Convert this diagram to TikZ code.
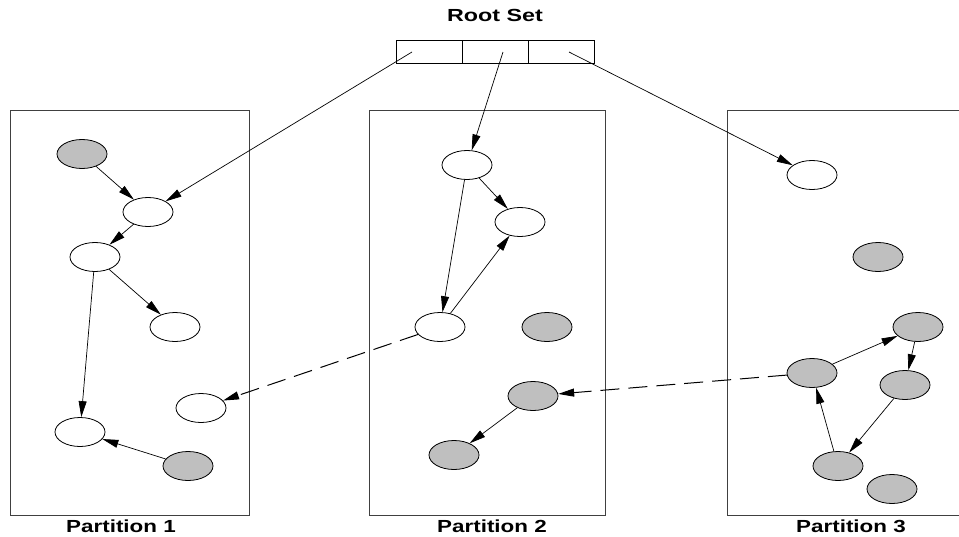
\documentclass[tikz,border=0pt]{standalone}
\usepackage{fontspec}
\setmainfont{Liberation Sans}
\usetikzlibrary{shapes.geometric,arrows.meta}
\begin{document}
\begin{tikzpicture}[x=1pt,y=-1pt,
  obj/.style={ellipse,draw=black,line width=0.8pt,minimum width=50pt,minimum height=29pt,inner sep=0pt},
  live/.style={obj,fill=white},
  dead/.style={obj,fill=black!25},
  arr/.style={line width=0.7pt,-{Triangle[length=16pt,width=8pt]}},
  darr/.style={arr,line width=1pt,dash pattern=on 19pt off 9pt},
  part/.style={draw=black!75,line width=1pt},
  lbl/.style={font=\bfseries\fontsize{17.5}{20}\selectfont,inner sep=0pt}]
\useasboundingbox (0,0) rectangle (959,536);
\fill[white] (0,0) rectangle (959,536);
% partitions
\draw[part] (10,110) rectangle (249,515);
\draw[part] (369,110) rectangle (605,515);
\draw[part] (962,110) -- (727,110) -- (727,515) -- (962,515);
% root set
\draw[line width=0.8pt] (396,40) rectangle (594,63);
\draw[line width=0.8pt] (462,40) -- (462,63) (528,40) -- (528,63);
\node[lbl] (rstitle) at (495,15) {\scalebox{1.33}[1]{Root Set}};
\coordinate (rs1) at (412,52);
\coordinate (rs2) at (503,52);
\coordinate (rs3) at (569,52);
% labels
\node[lbl] (l1) at (121,526) {\scalebox{1.28}[1]{Partition 1}};
\node[lbl] (l2) at (492,526) {\scalebox{1.28}[1]{Partition 2}};
\node[lbl] (l3) at (851,526) {\scalebox{1.28}[1]{Partition 3}};
% partition 1
\node[dead] (g1) at (82,154) {};
\node[live] (w1) at (148,212) {};
\node[live] (w2) at (95,257) {};
\node[live] (w3) at (175,327) {};
\node[live] (w4) at (80,432) {};
\node[live] (w5) at (201,408) {};
\node[dead] (g2) at (188,466) {};
% partition 2
\node[live] (a) at (467,165) {};
\node[live] (b) at (520,222) {};
\node[live] (c) at (440,327) {};
\node[dead] (d) at (547,327) {};
\node[dead] (e) at (533,396) {};
\node[dead] (f) at (454,455) {};
% partition 3
\node[live] (p) at (812,175) {};
\node[dead] (q) at (878,257) {};
\node[dead] (r) at (812,373) {};
\node[dead] (s) at (918,327) {};
\node[dead] (t) at (905,385) {};
\node[dead] (u) at (838,466) {};
\node[dead] (v) at (892,489) {};
% edges
\draw[arr] (rs1) -- (w1);
\draw[arr] (rs2) -- (a);
\draw[arr] (rs3) -- (p);
\draw[arr] (g1) -- (w1);
\draw[arr] (w1) -- (w2);
\draw[arr] (w2) -- (w3);
\draw[arr] (w2) -- (w4);
\draw[arr] (g2) -- (w4);
\draw[arr] (a) -- (b);
\draw[arr] (a) -- (c);
\draw[arr] (c) -- (b);
\draw[arr] (e) -- (f);
\draw[arr] (r) -- (s);
\draw[arr] (s) -- (t);
\draw[arr] (t) -- (u);
\draw[arr] (u) -- (r);
\draw[darr] (c) -- (w5);
\draw[darr] (r) -- (e);
\end{tikzpicture}
\end{document}
